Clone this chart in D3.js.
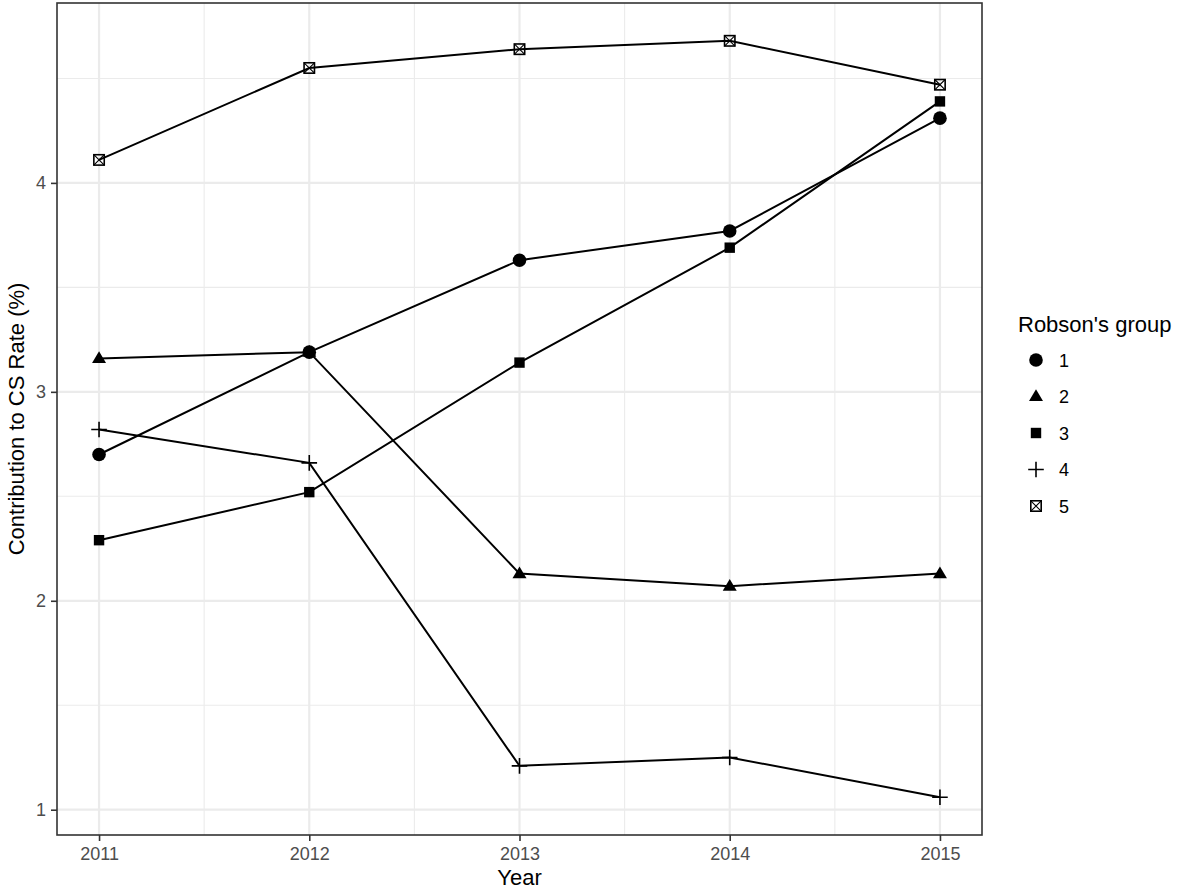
<!DOCTYPE html>
<html>
<head>
<meta charset="utf-8">
<script src="https://cdn.jsdelivr.net/npm/d3@7"></script>
<style>
  body { margin: 0; background: #fff; }
  svg { display: block; font-family: "Liberation Sans", Arial, Helvetica, sans-serif; }
</style>
</head>
<body>
<svg width="1181" height="891"></svg>
<script>
var years = [2011, 2012, 2013, 2014, 2015];
var groups = ['1', '2', '3', '4', '5'];

// contribution to CS rate (%) per Robson's group, by year
var group1 = [2.70, 3.19, 3.63, 3.77, 4.31];
var group2 = [3.16, 3.19, 2.13, 2.07, 2.13];
var group3 = [2.29, 2.52, 3.14, 3.69, 4.39];
var group4 = [2.82, 2.66, 1.21, 1.25, 1.06];
var group5 = [4.11, 4.55, 4.64, 4.68, 4.47];

var yTicks = [1, 2, 3, 4];
var yMinor = [1.5, 2.5, 3.5, 4.5];
var xMinor = [2011.5, 2012.5, 2013.5, 2014.5];

var series = [group1, group2, group3, group4, group5];

var svg = d3.select('svg');
var pLeft = 57, pRight = 982, pTop = 3, pBottom = 835;

var allVals = d3.merge(series);
var ext = d3.extent(allVals);
var pad = (ext[1] - ext[0]) * 0.05;

var x = d3.scaleLinear().domain([2010.8, 2015.2]).range([pLeft, pRight]);
var y = d3.scaleLinear().domain([ext[0] - pad, ext[1] + pad]).range([pBottom, pTop]);

var grid = svg.append('g');
// minor grid
grid.selectAll('.ym').data(yMinor.filter(function(d) { return y(d) > pTop && y(d) < pBottom; }))
  .enter().append('line')
  .attr('x1', pLeft).attr('x2', pRight)
  .attr('y1', function(d) { return y(d); }).attr('y2', function(d) { return y(d); })
  .attr('stroke', '#ebebeb').attr('stroke-width', 1.1);
grid.selectAll('.xm').data(xMinor).enter().append('line')
  .attr('y1', pTop).attr('y2', pBottom)
  .attr('x1', function(d) { return x(d); }).attr('x2', function(d) { return x(d); })
  .attr('stroke', '#ebebeb').attr('stroke-width', 1.1);
// major grid
grid.selectAll('.yM').data(yTicks).enter().append('line')
  .attr('x1', pLeft).attr('x2', pRight)
  .attr('y1', function(d) { return y(d); }).attr('y2', function(d) { return y(d); })
  .attr('stroke', '#ebebeb').attr('stroke-width', 2.2);
grid.selectAll('.xM').data(years).enter().append('line')
  .attr('y1', pTop).attr('y2', pBottom)
  .attr('x1', function(d) { return x(d); }).attr('x2', function(d) { return x(d); })
  .attr('stroke', '#ebebeb').attr('stroke-width', 2.2);

// marker shapes
var shapes = [
  function(g) { g.append('circle').attr('r', 6.8).attr('fill', '#000'); },
  function(g) { g.append('path').attr('d', 'M0,-7.2L7,4.6L-7,4.6Z').attr('fill', '#000'); },
  function(g) { g.append('rect').attr('x', -5.2).attr('y', -5.2).attr('width', 10.4).attr('height', 10.4).attr('fill', '#000'); },
  function(g) { g.append('path').attr('d', 'M-7.8,0H7.8M0,-7.8V7.8').attr('stroke', '#000').attr('stroke-width', 1.6).attr('fill', 'none'); },
  function(g) {
    g.append('rect').attr('x', -5.2).attr('y', -5.2).attr('width', 10.4).attr('height', 10.4)
      .attr('fill', 'none').attr('stroke', '#000').attr('stroke-width', 1.6);
    g.append('path').attr('d', 'M-5.2,-5.2L5.2,5.2M5.2,-5.2L-5.2,5.2')
      .attr('stroke', '#000').attr('stroke-width', 1.1);
  }
];

var line = d3.line()
  .x(function(d, i) { return x(years[i]); })
  .y(function(d) { return y(d); });

var plot = svg.append('g');
series.forEach(function(s) {
  plot.append('path').attr('d', line(s))
    .attr('fill', 'none').attr('stroke', '#000').attr('stroke-width', 2);
});
series.forEach(function(s, k) {
  s.forEach(function(v, i) {
    var g = plot.append('g').attr('transform', 'translate(' + x(years[i]) + ',' + y(v) + ')');
    shapes[k](g);
  });
});

// panel border
svg.append('rect')
  .attr('x', pLeft).attr('y', pTop)
  .attr('width', pRight - pLeft).attr('height', pBottom - pTop)
  .attr('fill', 'none').attr('stroke', '#333333').attr('stroke-width', 1.6);

// axes
var xAxis = svg.append('g').attr('transform', 'translate(0,' + pBottom + ')')
  .call(d3.axisBottom(x).tickValues(years).tickFormat(d3.format('d')).tickSize(6).tickPadding(6));
var yAxis = svg.append('g').attr('transform', 'translate(' + pLeft + ',0)')
  .call(d3.axisLeft(y).tickValues(yTicks).tickFormat(d3.format('d')).tickSize(6).tickPadding(5));
[xAxis, yAxis].forEach(function(a) {
  a.attr('font-size', null).attr('font-family', null);
  a.select('.domain').remove();
  a.selectAll('line').attr('stroke', '#333333').attr('stroke-width', 1.6);
  a.selectAll('text').attr('fill', '#4d4d4d').style('font-size', '18px');
});

svg.append('text').attr('x', (pLeft + pRight) / 2).attr('y', 885)
  .attr('text-anchor', 'middle').style('font-size', '22px').text('Year');
svg.append('text').attr('transform', 'translate(24,' + (pTop + pBottom) / 2 + ') rotate(-90)')
  .attr('text-anchor', 'middle').style('font-size', '22px').text('Contribution to CS Rate (%)');

// legend
var legend = svg.append('g');
legend.append('text').attr('x', 1018).attr('y', 332).style('font-size', '22px').text("Robson's group");
groups.forEach(function(gname, k) {
  var cy = 360 + k * 36.5;
  var g = legend.append('g').attr('transform', 'translate(1036,' + cy + ')');
  shapes[k](g);
  legend.append('text').attr('x', 1059).attr('y', cy + 6.5).style('font-size', '18px').text(gname);
});
</script>
</body>
</html>
